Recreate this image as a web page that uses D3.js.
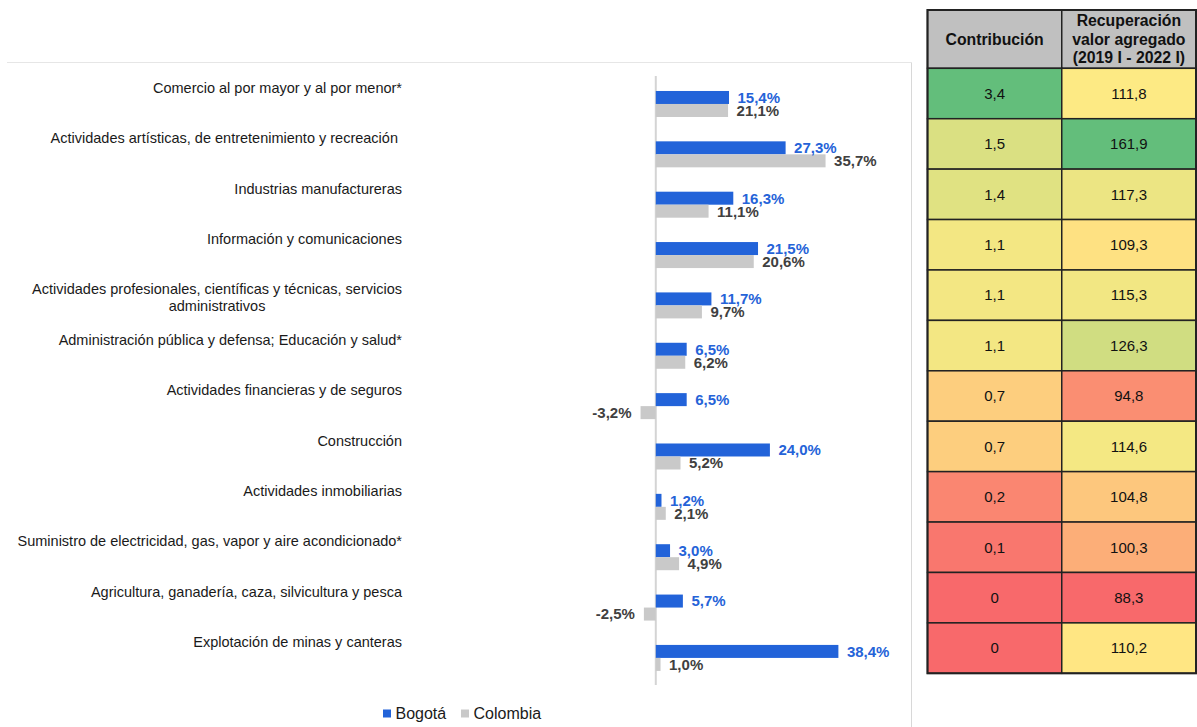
<!DOCTYPE html>
<html>
<head>
<meta charset="utf-8">
<script src="https://cdn.jsdelivr.net/npm/d3@7"></script>
<style>
  body { margin: 0; background: #fff; }
  svg { display: block; font-family: "Liberation Sans", Arial, Helvetica, sans-serif; }
</style>
</head>
<body>
<svg id="canvas"></svg>
<script>
var w = 1197
var h = 727

// ########## Data ##########
var categories = [
    "Comercio al por mayor y al por menor*",
    "Actividades artísticas, de entretenimiento y recreación ",
    "Industrias manufactureras",
    "Información y comunicaciones",
    "Actividades profesionales, científicas y técnicas, servicios\nadministrativos",
    "Administración pública y defensa; Educación y salud*",
    "Actividades financieras y de seguros",
    "Construcción",
    "Actividades inmobiliarias",
    "Suministro de electricidad, gas, vapor y aire acondicionado*",
    "Agricultura, ganadería, caza, silvicultura y pesca",
    "Explotación de minas y canteras"
];
var series = ["Bogotá", "Colombia"];

// bar lengths as drawn
var bogota   = [15.4, 27.3, 16.3, 21.5, 11.7, 6.5, 6.5, 24.0, 1.2, 3.0, 5.7, 38.4];
var colombia = [15.2, 35.7, 11.1, 20.6, 9.7, 6.2, -3.2, 5.2, 2.1, 4.9, -2.5, 1.0];
// data labels as printed (first Colombia label does not match its bar in the source)
var bogotaLabels   = ["15,4%", "27,3%", "16,3%", "21,5%", "11,7%", "6,5%", "6,5%", "24,0%", "1,2%", "3,0%", "5,7%", "38,4%"];
var colombiaLabels = ["21,1%", "35,7%", "11,1%", "20,6%", "9,7%", "6,2%", "-3,2%", "5,2%", "2,1%", "4,9%", "-2,5%", "1,0%"];

var tableHeaders = ["Contribución", "Recuperación\nvalor agregado\n(2019 I - 2022 I)"];
var contribucion = [3.4, 1.5, 1.4, 1.1, 1.1, 1.1, 0.7, 0.7, 0.2, 0.1, 0, 0];
var recuperacion = [111.8, 161.9, 117.3, 109.3, 115.3, 126.3, 94.8, 114.6, 104.8, 100.3, 88.3, 110.2];

var colors = { "Bogotá": "#2263d9", "Colombia": "#c9c9c9" };
var labelColors = { "Bogotá": "#2563d8", "Colombia": "#404040" };

var locale = d3.formatLocale({ decimal: ",", thousands: ".", grouping: [3], currency: ["$", ""] });
var fmt1 = locale.format(".1f");
function fmtCell(v) { return v === 0 ? "0" : fmt1(v); }

// ########## SVG ##########
var svg = d3.select("#canvas")
    .attr("width", w)
    .attr("height", h);

// chart frame (top + right edge only visible)
svg.append("line")
    .attr("x1", 7).attr("x2", 911.5).attr("y1", 62.5).attr("y2", 62.5)
    .attr("stroke", "#e6e6e6");
svg.append("line")
    .attr("x1", 911.5).attr("x2", 911.5).attr("y1", 62.5).attr("y2", h)
    .attr("stroke", "#d8d8d8");

// ########## Scales ##########
var x = d3.scaleLinear()
    .domain([-5, 40])
    .range([632, 846]);

var y = d3.scaleBand()
    .domain(categories)
    .range([78.8, 683.1])
    .paddingInner(0.4837)
    .paddingOuter(0.24185);

var ySub = d3.scaleBand()
    .domain(series)
    .range([0, y.bandwidth()]);

var rows = categories.map(function (c, i) {
    return {
        cat: c,
        values: [
            { key: "Bogotá", v: bogota[i], label: bogotaLabels[i] },
            { key: "Colombia", v: colombia[i], label: colombiaLabels[i] }
        ]
    };
});

// ########## Zero line ##########
svg.append("line")
    .attr("x1", x(0)).attr("x2", x(0))
    .attr("y1", 76).attr("y2", 685)
    .attr("stroke", "#d4d4d4")
    .attr("stroke-width", 2);

// ########## Bars ##########
var group = svg.selectAll(".row")
    .data(rows).enter()
    .append("g")
    .attr("class", "row")
    .attr("transform", function (d) { return "translate(0," + y(d.cat) + ")"; });

group.selectAll("rect")
    .data(function (d) { return d.values; }).enter()
    .append("rect")
    .attr("x", function (d) { return x(Math.min(0, d.v)); })
    .attr("y", function (d) { return ySub(d.key); })
    .attr("width", function (d) { return Math.abs(x(d.v) - x(0)); })
    .attr("height", ySub.bandwidth())
    .attr("fill", function (d) { return colors[d.key]; });

group.selectAll(".value")
    .data(function (d) { return d.values; }).enter()
    .append("text")
    .attr("class", "value")
    .attr("x", function (d) { return d.v < 0 ? x(d.v) - 9 : x(d.v) + 8.5; })
    .attr("y", function (d) { return ySub(d.key) + ySub.bandwidth() / 2; })
    .attr("dy", "0.36em")
    .attr("text-anchor", function (d) { return d.v < 0 ? "end" : "start"; })
    .attr("font-size", 15)
    .attr("font-weight", "bold")
    .attr("fill", function (d) { return labelColors[d.key]; })
    .text(function (d) { return d.label; });

// ########## Category labels ##########
var catLabel = svg.selectAll(".cat")
    .data(categories).enter()
    .append("text")
    .attr("class", "cat")
    .attr("font-size", 14.5)
    .attr("fill", "#1a1a1a")
    .style("white-space", "pre");

catLabel.each(function (c) {
    var t = d3.select(this);
    var lines = c.split("\n");
    var y0 = y(c) - 3;
    var first = t.append("tspan")
        .attr("x", 402)
        .attr("y", y0)
        .attr("dy", "0.35em")
        .attr("text-anchor", "end")
        .text(lines[0]);
    var wFirst = first.node().getComputedTextLength();
    lines.slice(1).forEach(function (line, k) {
        t.append("tspan")
            .attr("x", 402 - wFirst / 2)
            .attr("y", y0 + 17 * (k + 1))
            .attr("dy", "0.35em")
            .attr("text-anchor", "middle")
            .text(line);
    });
});

// ########## Legend ##########
var legend = svg.append("g").attr("class", "legend");
var legendX = { "Bogotá": 383, "Colombia": 461 };

legend.selectAll("rect")
    .data(series).enter()
    .append("rect")
    .attr("x", function (d) { return legendX[d]; })
    .attr("y", 709.5)
    .attr("width", 8)
    .attr("height", 8)
    .attr("fill", function (d) { return colors[d]; });

legend.selectAll("text")
    .data(series).enter()
    .append("text")
    .attr("x", function (d) { return legendX[d] + 12.5; })
    .attr("y", 719)
    .attr("font-size", 16)
    .attr("fill", "#1a1a1a")
    .text(function (d) { return d; });

// ########## Table ##########
var colX = d3.scaleBand()
    .domain(tableHeaders)
    .range([927.5, 1196]);

var rowY = d3.scaleBand()
    .domain(categories)
    .range([68.3, 673.3]);

function colorScale(arr) {
    return d3.scaleLinear()
        .domain([d3.min(arr), d3.median(arr), d3.max(arr)])
        .range(["#f8696b", "#ffeb84", "#63be7b"])
        .interpolate(d3.interpolateRgb);
}
var columns = [
    { head: tableHeaders[0], values: contribucion, color: colorScale(contribucion) },
    { head: tableHeaders[1], values: recuperacion, color: colorScale(recuperacion) }
];

var table = svg.append("g").attr("class", "table");

// header cells
table.selectAll(".head")
    .data(columns).enter()
    .append("rect")
    .attr("class", "head")
    .attr("x", function (d) { return colX(d.head); })
    .attr("y", 10)
    .attr("width", colX.bandwidth())
    .attr("height", 68.3 - 10)
    .attr("fill", "#c0c0c0")
    .attr("stroke", "#222")
    .attr("stroke-width", 1.5);

table.selectAll(".headText")
    .data(columns).enter()
    .append("text")
    .attr("class", "headText")
    .attr("font-size", 15.8)
    .attr("font-weight", "bold")
    .attr("fill", "#111")
    .attr("text-anchor", "middle")
    .each(function (d) {
        var lines = d.head.split("\n");
        var cx = colX(d.head) + colX.bandwidth() / 2;
        var mid = (10 + 68.3) / 2;
        var t = d3.select(this);
        lines.forEach(function (line, k) {
            t.append("tspan")
                .attr("x", cx)
                .attr("y", mid + (k - (lines.length - 1) / 2) * 18.5)
                .attr("dy", "0.35em")
                .text(line);
        });
    });

// body cells
var cols = table.selectAll(".col")
    .data(columns).enter()
    .append("g")
    .attr("class", "col");

cols.selectAll("rect")
    .data(function (d) {
        return d.values.map(function (v, i) { return { col: d, v: v, cat: categories[i] }; });
    }).enter()
    .append("rect")
    .attr("x", function (d) { return colX(d.col.head); })
    .attr("y", function (d) { return rowY(d.cat); })
    .attr("width", colX.bandwidth())
    .attr("height", rowY.bandwidth())
    .attr("fill", function (d) { return d.col.color(d.v); })
    .attr("stroke", "#222")
    .attr("stroke-width", 1.5);

cols.selectAll("text")
    .data(function (d) {
        return d.values.map(function (v, i) { return { col: d, v: v, cat: categories[i] }; });
    }).enter()
    .append("text")
    .attr("x", function (d) { return colX(d.col.head) + colX.bandwidth() / 2; })
    .attr("y", function (d) { return rowY(d.cat) + rowY.bandwidth() / 2; })
    .attr("dy", "0.35em")
    .attr("text-anchor", "middle")
    .attr("font-size", 15)
    .attr("fill", "#111")
    .text(function (d) { return fmtCell(d.v); });

// outer border
table.append("rect")
    .attr("x", 927.5)
    .attr("y", 10)
    .attr("width", 1196 - 927.5)
    .attr("height", 673.3 - 10)
    .attr("fill", "none")
    .attr("stroke", "#222")
    .attr("stroke-width", 2);
</script>
</body>
</html>
